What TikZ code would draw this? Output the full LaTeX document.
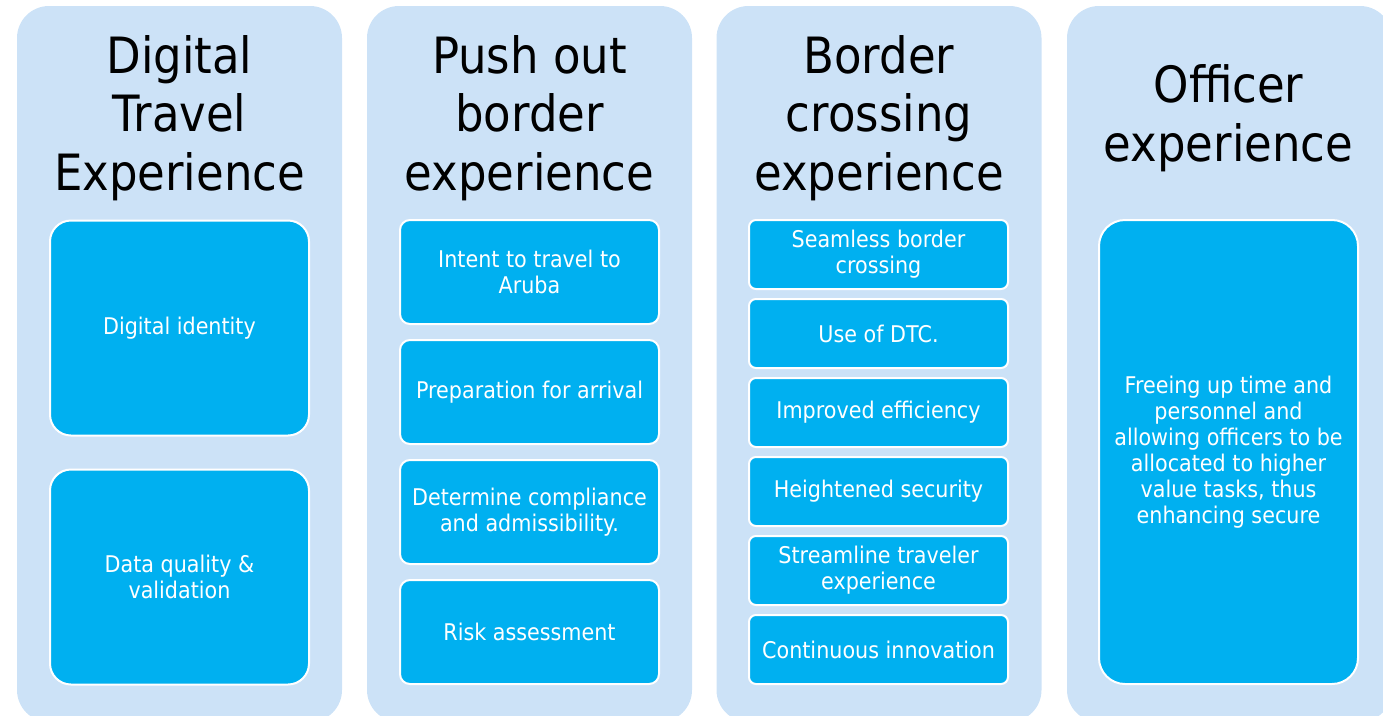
\documentclass[tikz,border=0pt]{standalone}
\usepackage{fontspec}
\setmainfont{DejaVu Sans}[FakeStretch=0.9]
\usetikzlibrary{positioning}

\definecolor{panelblue}{RGB}{204,226,247}
\definecolor{cellblue}{RGB}{0,176,240}

\newcommand{\headfont}{\fontsize{50}{58.5}\selectfont}
\newcommand{\cellfont}{\fontsize{23}{26}\selectfont}

\begin{document}
\begin{tikzpicture}[
        x=1pt, y=-1pt,
        panel/.style={rectangle, fill=panelblue, rounded corners=32pt, minimum width=325pt, minimum height=716pt, inner sep=0pt},
        head/.style={align=center, font=\headfont, text=black},
        cell/.style={rectangle, fill=cellblue, draw=white, line width=2pt, minimum width=259pt, inner sep=0pt, outer sep=0pt, align=center, font=\cellfont, text=white},
        paircell/.style={cell, minimum height=215pt, rounded corners=21pt},
        quadcell/.style={cell, minimum height=104pt, rounded corners=10pt},
        hexcell/.style={cell, minimum height=69pt, rounded corners=7pt},
        solocell/.style={cell, minimum height=464pt, rounded corners=26pt}
    ]
        \useasboundingbox (0,0) rectangle (1383,715);
        \clip (0,0) rectangle (1383,715);

        % Column panels
        \node[panel] (digital) at (179.5,364) {};
        \node[panel] (pushout) at (529.5,364) {};
        \node[panel] (crossing) at (879,364) {};
        \node[panel] (officer) at (1229.5,364) {};

        % Column headings
        \node[head] (digitalhead) at (179.5,118) {Digital\\Travel\\Experience};
        \node[head] (pushouthead) at (529.5,118) {Push out\\border\\experience};
        \node[head] (crossinghead) at (879,118) {Border\\crossing\\experience};
        \node[head] (officerhead) at (1228.5,118) {Officer\\experience};

        % Digital travel items
        \node[paircell] (identity) at (179.5,328) {Digital identity};
        \node[paircell, below=34pt of identity] (quality) {Data quality \&\\validation};

        % Push out border items
        \node[quadcell] (intent) at (529.5,272) {Intent to travel to\\Aruba};
        \node[quadcell, below=16pt of intent] (arrival) {Preparation for arrival};
        \node[quadcell, below=16pt of arrival] (compliance) {Determine compliance\\and admissibility.};
        \node[quadcell, below=16pt of compliance] (risk) {Risk assessment};

        % Border crossing items
        \node[hexcell] (seamless) at (878.5,254.5) {Seamless border\\crossing};
        \node[hexcell, below=10pt of seamless] (dtc) {Use of DTC.};
        \node[hexcell, below=10pt of dtc] (efficiency) {Improved efficiency};
        \node[hexcell, below=10pt of efficiency] (security) {Heightened security};
        \node[hexcell, below=10pt of security] (streamline) {Streamline traveler\\experience};
        \node[hexcell, below=10pt of streamline] (innovation) {Continuous innovation};

        % Officer item
        \node[solocell] (freeing) at (1228.5,452) {Freeing up time and\\personnel and\\allowing officers to be\\allocated to higher\\value tasks, thus\\enhancing secure};
\end{tikzpicture}
\end{document}
